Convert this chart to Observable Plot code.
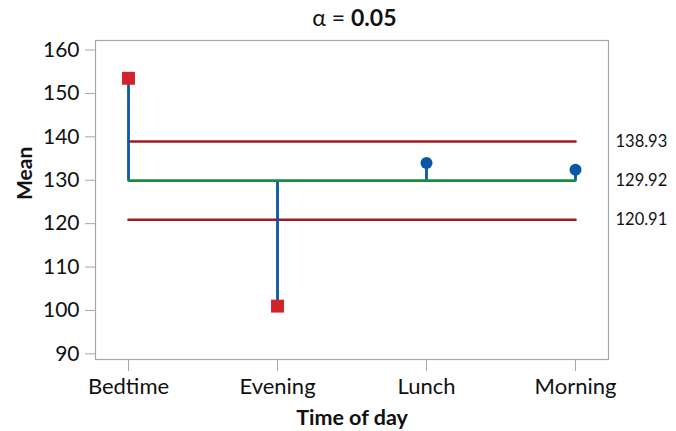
<!DOCTYPE html>
<html><head><meta charset="utf-8">
<script src="https://cdn.jsdelivr.net/npm/d3@7"></script>
<script src="https://cdn.jsdelivr.net/npm/@observablehq/plot@0.6"></script>
<style>body{margin:0;background:#fff}</style>
</head><body><div id="chart"></div>
<script>
const categories = ["Bedtime", "Evening", "Lunch", "Morning"];
const means = [153.5, 101.0, 134.0, 132.4];
const centerLine = 129.92;
const upperLimit = 138.93;
const lowerLimit = 120.91;
const limitLabels = ["138.93", "129.92", "120.91"];
const yTicks = [90, 100, 110, 120, 130, 140, 150, 160];

const pts = categories.map((c, i) => ({c, m: means[i], out: means[i] > upperLimit || means[i] < lowerLimit}));
const lineData = (v) => categories.map(c => ({c, v}));
const limitVals = [upperLimit, centerLine, lowerLimit];

const font = "Lato, 'Open Sans', sans-serif";
const chart = Plot.plot({
  width: 676, height: 431,
  marginTop: 40, marginBottom: 72, marginLeft: 95, marginRight: 68,
  style: {fontFamily: font, fontSize: "19px", color: "#111", background: "#fff"},
  x: {type: "point", domain: categories, padding: 0.214},
  y: {domain: [88.7, 162.2]},
  marks: [
    Plot.frame({stroke: "#a6a6a6", strokeWidth: 1.2}),
    Plot.axisY(yTicks, {tickSize: 10, tickPadding: 6, stroke: "#a6a6a6", fontSize: 21, fill: "#111", label: null}),
    Plot.axisX({tickSize: 12, tickPadding: 7, stroke: "#a6a6a6", fontSize: 22, fill: "#111", label: null}),
    Plot.line(lineData(upperLimit), {x: "c", y: "v", stroke: "#9e1b22", strokeWidth: 2.6}),
    Plot.line(lineData(lowerLimit), {x: "c", y: "v", stroke: "#9e1b22", strokeWidth: 2.6}),
    Plot.ruleX(pts, {x: "c", y1: centerLine, y2: "m", stroke: "#0b57a6", strokeWidth: 2.8}),
    Plot.line(lineData(centerLine), {x: "c", y: "v", stroke: "#1b8a42", strokeWidth: 2.6}),
    Plot.dot(pts.filter(d => d.out), {x: "c", y: "m", symbol: "square", r: 7.3, fill: "#d2222a", stroke: "none"}),
    Plot.dot(pts.filter(d => !d.out), {x: "c", y: "m", symbol: "circle", r: 6, fill: "#0b57a6", stroke: "none"}),
    Plot.text(limitVals, {y: d => d, text: (d, i) => limitLabels[i], frameAnchor: "right", dx: 7, textAnchor: "start", fontSize: 16.5, fill: "#111"}),
    Plot.text(["Mean"], {frameAnchor: "left", dx: -70, rotate: -90, lineAnchor: "middle", fontWeight: "bold", fontSize: 21, fill: "#111"}),
    Plot.text(["Time of day"], {frameAnchor: "bottom", lineAnchor: "middle", dy: 59, fontWeight: "bold", fontSize: 21.5, fill: "#111"}),
    Plot.text([0], {frameAnchor: "top", lineAnchor: "middle", dy: -22, text: () => "α = ", textAnchor: "end", dx: -1, fontSize: 23, fill: "#111"}),
    Plot.text([0], {frameAnchor: "top", lineAnchor: "middle", dy: -22, text: () => "0.05", textAnchor: "start", dx: -1, fontWeight: "bold", fontSize: 23, fill: "#111"})
  ]
});
document.getElementById("chart").appendChild(chart);
</script></body></html>
